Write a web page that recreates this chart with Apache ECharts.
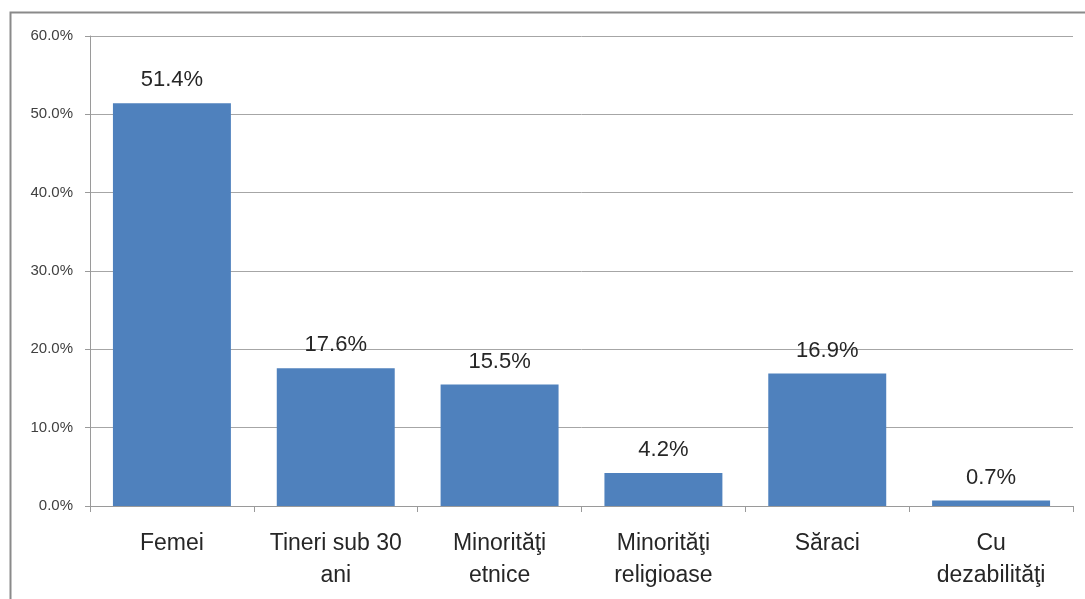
<!DOCTYPE html>
<html><head><meta charset="utf-8">
<script src="https://cdn.jsdelivr.net/npm/echarts@6/dist/echarts.min.js"></script>
<style>html,body{margin:0;padding:0;background:#fff}#c{width:1085px;height:599px}</style>
</head><body><div id="c"></div>
<script>
const categories = ['Femei', 'Tineri sub 30\nani', 'Minorităţi\netnice', 'Minorităţi\nreligioase', 'Săraci', 'Cu\ndezabilităţi'];
const values = [51.4, 17.6, 15.5, 4.2, 16.9, 0.7];
const yTicks = [0, 10, 20, 30, 40, 50, 60];

const FONT = 'Liberation Sans, Arial, sans-serif';
const chart = echarts.init(document.getElementById('c'));
chart.setOption({
  animation: false,
  backgroundColor: '#fff',
  graphic: [{
    type: 'rect', left: 8, top: 10, silent: true,
    shape: { width: 1100, height: 620 },
    style: { fill: 'none', stroke: '#8a8a8a', lineWidth: 2 }
  }],
  grid: { left: 90, right: 12, top: 36, bottom: 93, containLabel: false },
  xAxis: {
    type: 'category', data: categories,
    axisLine: { show: true, lineStyle: { color: '#9a9a9a', width: 1 } },
    axisTick: { show: true, alignWithLabel: false, length: 6, lineStyle: { color: '#9a9a9a' } },
    axisLabel: { color: '#262626', fontSize: 23, fontFamily: FONT, margin: 22, lineHeight: 32, interval: 0 }
  },
  yAxis: {
    type: 'value', min: yTicks[0], max: yTicks[yTicks.length - 1], interval: 10,
    axisLine: { show: true, lineStyle: { color: '#9a9a9a', width: 1 } },
    axisTick: { show: true, length: 5, lineStyle: { color: '#9a9a9a' } },
    splitLine: { show: true, lineStyle: { color: '#a6a6a6', width: 1 } },
    axisLabel: { color: '#404040', fontSize: 15, fontFamily: FONT, margin: 17,
      formatter: v => v.toFixed(1) + '%' }
  },
  series: [{
    type: 'bar', data: values, barWidth: '72%',
    itemStyle: { color: '#4F81BD' },
    label: { show: true, position: 'top', distance: 12, color: '#262626', fontSize: 22,
      fontFamily: FONT, formatter: p => p.value.toFixed(1) + '%' }
  }]
});
</script></body></html>
